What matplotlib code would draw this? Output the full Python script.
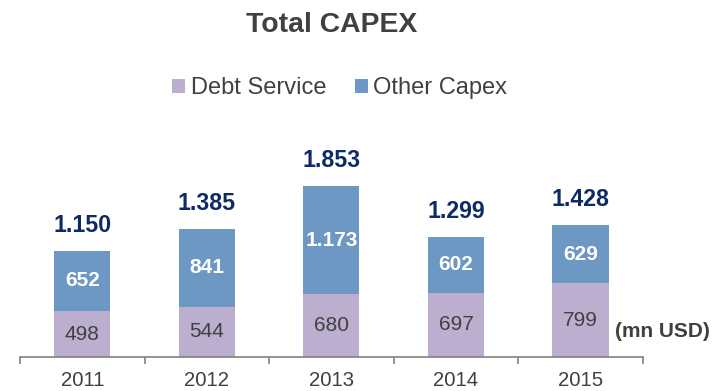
import matplotlib as mpl
mpl.use('Agg')
import matplotlib.pyplot as plt
import numpy as np

plt.rcParams['font.family'] = ['Liberation Sans', 'DejaVu Sans']

years = ['2011', '2012', '2013', '2014', '2015']
debt_service = [498, 544, 680, 697, 799]
other_capex = [652, 841, 1173, 602, 629]
totals = [1150, 1385, 1853, 1299, 1428]

purple = '#bcaecf'
blue = '#6d98c4'
navy = '#0d2a66'
grey = '#404040'

def fmt(v):
    # thousands with a dot, as in the source report
    return f'{v:,}'.replace(',', '.')

fig = plt.figure(figsize=(7.15, 3.91), dpi=100)
ax = fig.add_axes([0.028, 0.087, 0.871, 0.472])

x = np.arange(len(years))
w = 0.45
ax.bar(x, debt_service, width=w, color=purple, label='Debt Service')
ax.bar(x, other_capex, width=w, bottom=debt_service, color=blue, label='Other Capex')

for i in range(len(years)):
    ax.text(x[i], debt_service[i] / 2, fmt(debt_service[i]), ha='center', va='center',
            fontsize=15, color=grey)
    ax.text(x[i], debt_service[i] + other_capex[i] / 2, fmt(other_capex[i]), ha='center',
            va='center', fontsize=15, color='white', fontweight='bold')
    ax.text(x[i], totals[i] + 280, fmt(totals[i]), ha='center', va='center',
            fontsize=16.7, color=navy, fontweight='bold', clip_on=False)

ax.set_xlim(-0.5, len(years) - 0.5)
ax.set_ylim(0, 2000)
ax.set_yticks([])
for s in ['left', 'right', 'top']:
    ax.spines[s].set_visible(False)
ax.spines['bottom'].set_color('#808080')
ax.spines['bottom'].set_linewidth(1.2)

# category labels centred, tick marks at the boundaries
ax.set_xticks(np.arange(-0.5, len(years), 1.0))
ax.set_xticklabels([])
ax.tick_params(axis='x', direction='out', length=5, color='#808080', width=1.2)
ax.set_xticks(x, minor=True)
ax.set_xticklabels(years, minor=True, fontsize=14.6, color=grey)
ax.tick_params(axis='x', which='minor', length=0, pad=10)

fig.text(0.860, 0.153, '(mn USD)', fontsize=15, fontweight='bold', color=grey,
         va='center', ha='left')

fig.text(0.464, 0.936, 'Total CAPEX', ha='center', va='center', fontsize=20.4,
         fontweight='bold', color=grey)

fig.legend(loc='center', bbox_to_anchor=(0.475, 0.775), ncol=2, frameon=False,
           fontsize=17, handlelength=0.55, handleheight=0.55, handletextpad=0.25,
           columnspacing=1.2, labelcolor=grey)

fig.savefig('out.png', dpi=100)
